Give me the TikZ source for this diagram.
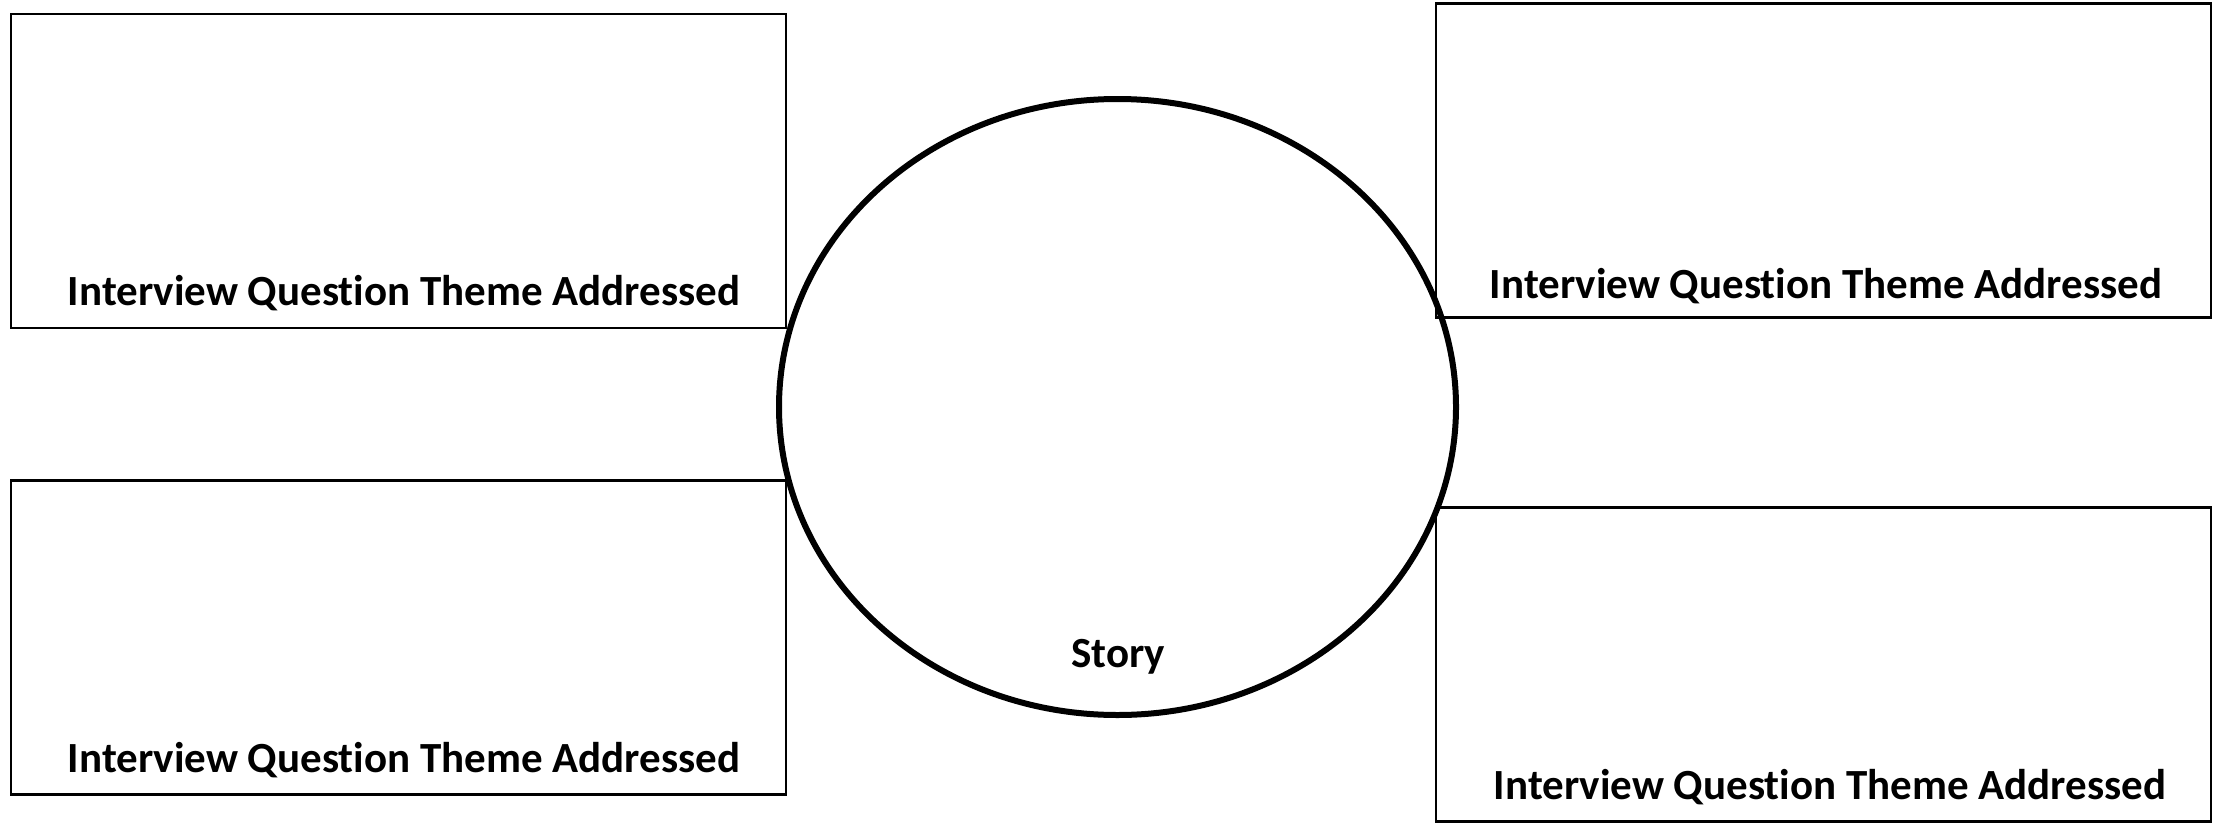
\documentclass[tikz,border=0pt]{standalone}
\usepackage{fontspec}
\setmainfont{Carlito}[Ligatures={NoCommon}]
\usetikzlibrary{shapes.geometric}
\begin{document}
\begin{tikzpicture}[x=1pt,y=-1pt,
  box/.style={draw=black,line width=2.5pt,rectangle,minimum width=775pt,minimum height=314pt,inner sep=0pt},
  lbl/.style={anchor=base,inner sep=0pt,font=\fontsize{43}{50}\selectfont\bfseries},
  storyellipse/.style={draw=black,line width=6pt,ellipse,minimum width=677pt,minimum height=616pt,inner sep=0pt}]
\useasboundingbox (0,0) rectangle (2216,822);
\node[storyellipse] (story) at (1117.5,407) {};
\node[box] (tl) at (398.5,171) {};
\node[box] (bl) at (398.5,637.5) {};
\node[box] (tr) at (1823.5,160.5) {};
\node[box] (br) at (1823.5,664.5) {};
\node[lbl] (tltext) at (404,305) {Interview Question Theme Addressed};
\node[lbl] (bltext) at (404,772) {Interview Question Theme Addressed};
\node[lbl] (trtext) at (1826,298) {Interview Question Theme Addressed};
\node[lbl] (brtext) at (1830,799) {Interview Question Theme Addressed};
\node[lbl] (storytext) at (1118,667) {Story};
\end{tikzpicture}
\end{document}
